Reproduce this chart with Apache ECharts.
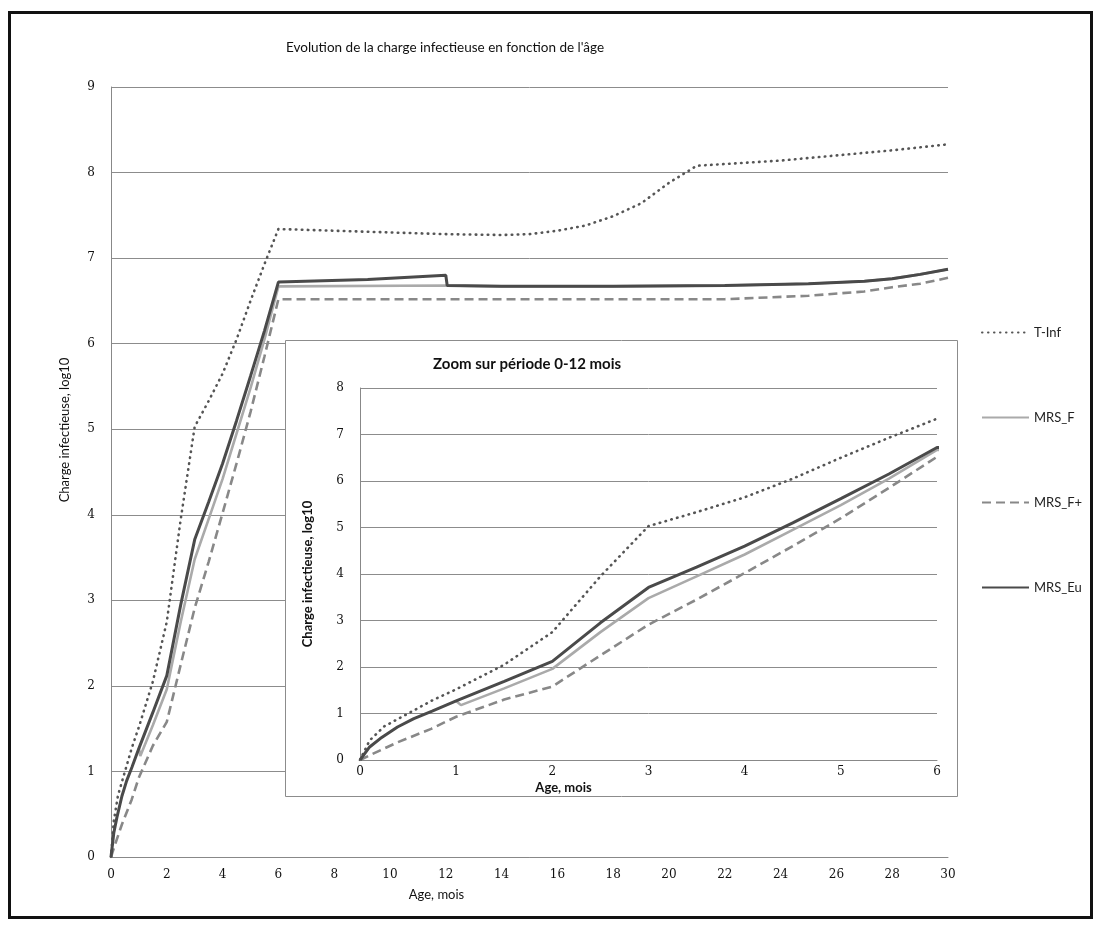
<!DOCTYPE html>
<html>
<head>
<meta charset="utf-8">
<script src="https://cdn.jsdelivr.net/npm/echarts@6/dist/echarts.min.js"></script>
<style>
  html, body { margin: 0; padding: 0; background: #fff; }
  #chart { width: 1101px; height: 938px; }
</style>
</head>
<body>
<div id="chart"></div>
<script>
// [age in months, charge log10]
const tInf = [
  [0, 0], [0.1, 0.42], [0.25, 0.72], [0.5, 1.0], [0.75, 1.28], [1, 1.52], [1.5, 2.05], [2, 2.75],
  [2.5, 3.95], [3, 5.03], [3.5, 5.33], [4, 5.65], [4.5, 6.05], [5, 6.5], [5.5, 6.93], [6, 7.34],
  [8, 7.32], [10, 7.3], [12, 7.28], [14, 7.27], [15, 7.28], [16, 7.32], [17, 7.38], [18, 7.49],
  [19, 7.64], [20, 7.88], [20.5, 7.98], [21, 8.08], [22, 8.1], [24, 8.14], [26, 8.2], [28, 8.26], [30, 8.33]
]
const mrsF = [
  [1, 1.27], [1.05, 1.18], [1.5, 1.54], [2, 1.96], [2.5, 2.75], [3, 3.48], [3.5, 3.95], [4, 4.42],
  [4.5, 4.95], [5, 5.48], [5.5, 6.05], [6, 6.67], [12, 6.68], [12.05, 6.68], [14, 6.67], [18, 6.67],
  [22, 6.68], [25, 6.7], [27, 6.73], [28, 6.76], [29, 6.81], [30, 6.87]
]
const mrsFPlus = [
  [0, 0], [0.1, 0.1], [0.39, 0.38], [0.74, 0.67], [1, 0.93], [1.5, 1.3], [2, 1.58], [2.5, 2.25],
  [3, 2.91], [3.5, 3.45], [4, 4.02], [4.5, 4.6], [5, 5.2], [5.5, 5.85], [6, 6.52], [22, 6.52],
  [25, 6.56], [27, 6.61], [28, 6.66], [29, 6.7], [30, 6.77]
]
const mrsEu = [
  [0, 0], [0.1, 0.28], [0.21, 0.46], [0.39, 0.71], [0.56, 0.89], [0.75, 1.05], [1, 1.27], [1.5, 1.69],
  [2, 2.12], [2.5, 2.95], [3, 3.71], [3.5, 4.15], [4, 4.6], [4.5, 5.1], [5, 5.62], [5.5, 6.15],
  [6, 6.72], [9.2, 6.75], [12, 6.8], [12.05, 6.68], [14, 6.67], [18, 6.67], [22, 6.68], [25, 6.7],
  [27, 6.73], [28, 6.76], [29, 6.81], [30, 6.87]
]
const seriesNames = ['T-Inf', 'MRS_F', 'MRS_F+', 'MRS_Eu']

const labelFont = { fontFamily: 'DejaVu Serif', fontSize: 12, color: '#111' }
const textFont = 'Lato'

function makeSeries (grid, z) {
  const base = {
    type: 'line',
    xAxisIndex: grid,
    yAxisIndex: grid,
    showSymbol: false,
    symbol: 'none',
    z: z,
    clip: true
  }
  return [
    Object.assign({}, base, { name: 'T-Inf', data: tInf, itemStyle: { color: '#555' }, lineStyle: { color: '#555', width: 2.6, type: [0.5, 5.5], cap: 'round' } }),
    Object.assign({}, base, { name: 'MRS_F', data: mrsF, itemStyle: { color: '#aaa' }, lineStyle: { color: '#aaa', width: 2.6 } }),
    Object.assign({}, base, { name: 'MRS_F+', data: mrsFPlus, itemStyle: { color: '#888' }, lineStyle: { color: '#888', width: 2.6, type: [9, 5] } }),
    Object.assign({}, base, { name: 'MRS_Eu', data: mrsEu, itemStyle: { color: '#4a4a4a' }, lineStyle: { color: '#4a4a4a', width: 3 } })
  ]
}

const chart = echarts.init(document.getElementById('chart'))
chart.setOption({
  animation: false,
  backgroundColor: '#fff',
  title: [{
    text: "Evolution de la charge infectieuse en fonction de l'âge",
    left: 440,
    top: 36,
    textAlign: 'center',
    textStyle: { fontFamily: textFont, fontSize: 13.5, fontWeight: 'normal', color: '#111' }
  }, {
    text: 'Zoom sur période 0-12 mois',
    left: 428,
    top: 352,
    z: 10,
    textStyle: { fontFamily: textFont, fontSize: 15, fontWeight: 'bold', color: '#111' }
  }],
  legend: {
    data: seriesNames,
    orient: 'vertical',
    left: 976,
    top: 321,
    itemWidth: 47,
    itemHeight: 12,
    itemGap: 72,
    itemStyle: { opacity: 0 },
    textStyle: { fontFamily: textFont, fontSize: 13, color: '#222' }
  },
  graphic: [{
    type: 'rect',
    z: 5,
    shape: { x: 285.5, y: 340.5, width: 672, height: 456 },
    style: { fill: '#fff', stroke: '#8c8c8c', lineWidth: 1 }
  }, {
    type: 'rect',
    z: 20,
    shape: { x: 9.5, y: 12.5, width: 1082, height: 905 },
    style: { fill: 'none', stroke: '#111', lineWidth: 3 }
  }],
  grid: [
    { left: 111, top: 87, right: 153, bottom: 81 },
    { left: 360, top: 388, width: 577, height: 372 }
  ],
  xAxis: [{
    type: 'value',
    gridIndex: 0,
    min: 0,
    max: 30,
    interval: 2,
    name: 'Age, mois',
    nameLocation: 'middle',
    nameGap: 31,
    nameTextStyle: { fontFamily: textFont, fontSize: 13, color: '#111', padding: [0, 186, 0, 0] },
    axisLine: { lineStyle: { color: '#888' } },
    axisTick: { show: false },
    axisLabel: Object.assign({ margin: 12 }, labelFont),
    splitLine: { show: false }
  }, {
    type: 'value',
    gridIndex: 1,
    min: 0,
    max: 6,
    interval: 1,
    z: 10,
    name: 'Age, mois',
    nameLocation: 'middle',
    nameGap: 21,
    nameTextStyle: { fontFamily: textFont, fontSize: 13, fontWeight: 'bold', color: '#111', padding: [0, 170, 0, 0] },
    axisLine: { lineStyle: { color: '#888' } },
    axisTick: { show: false },
    axisLabel: Object.assign({ margin: 6 }, labelFont),
    splitLine: { show: false }
  }],
  yAxis: [{
    type: 'value',
    gridIndex: 0,
    min: 0,
    max: 9,
    interval: 1,
    name: 'Charge infectieuse, log10',
    nameLocation: 'middle',
    nameGap: 40,
    nameTextStyle: { fontFamily: textFont, fontSize: 13, color: '#111', padding: [0, 0, 0, 84] },
    axisLine: { show: true, lineStyle: { color: '#888' } },
    axisTick: { show: false },
    axisLabel: Object.assign({ margin: 16 }, labelFont),
    splitLine: { lineStyle: { color: '#8c8c8c' } }
  }, {
    type: 'value',
    gridIndex: 1,
    min: 0,
    max: 8,
    interval: 1,
    z: 10,
    name: 'Charge infectieuse, log10',
    nameLocation: 'middle',
    nameGap: 46,
    nameTextStyle: { fontFamily: textFont, fontSize: 13, fontWeight: 'bold', color: '#111' },
    axisLine: { show: true, lineStyle: { color: '#888' } },
    axisTick: { show: false },
    axisLabel: Object.assign({ margin: 16 }, labelFont),
    splitLine: { lineStyle: { color: '#8c8c8c' } }
  }],
  series: makeSeries(0, 2).concat(makeSeries(1, 10))
})
</script>
</body>
</html>
